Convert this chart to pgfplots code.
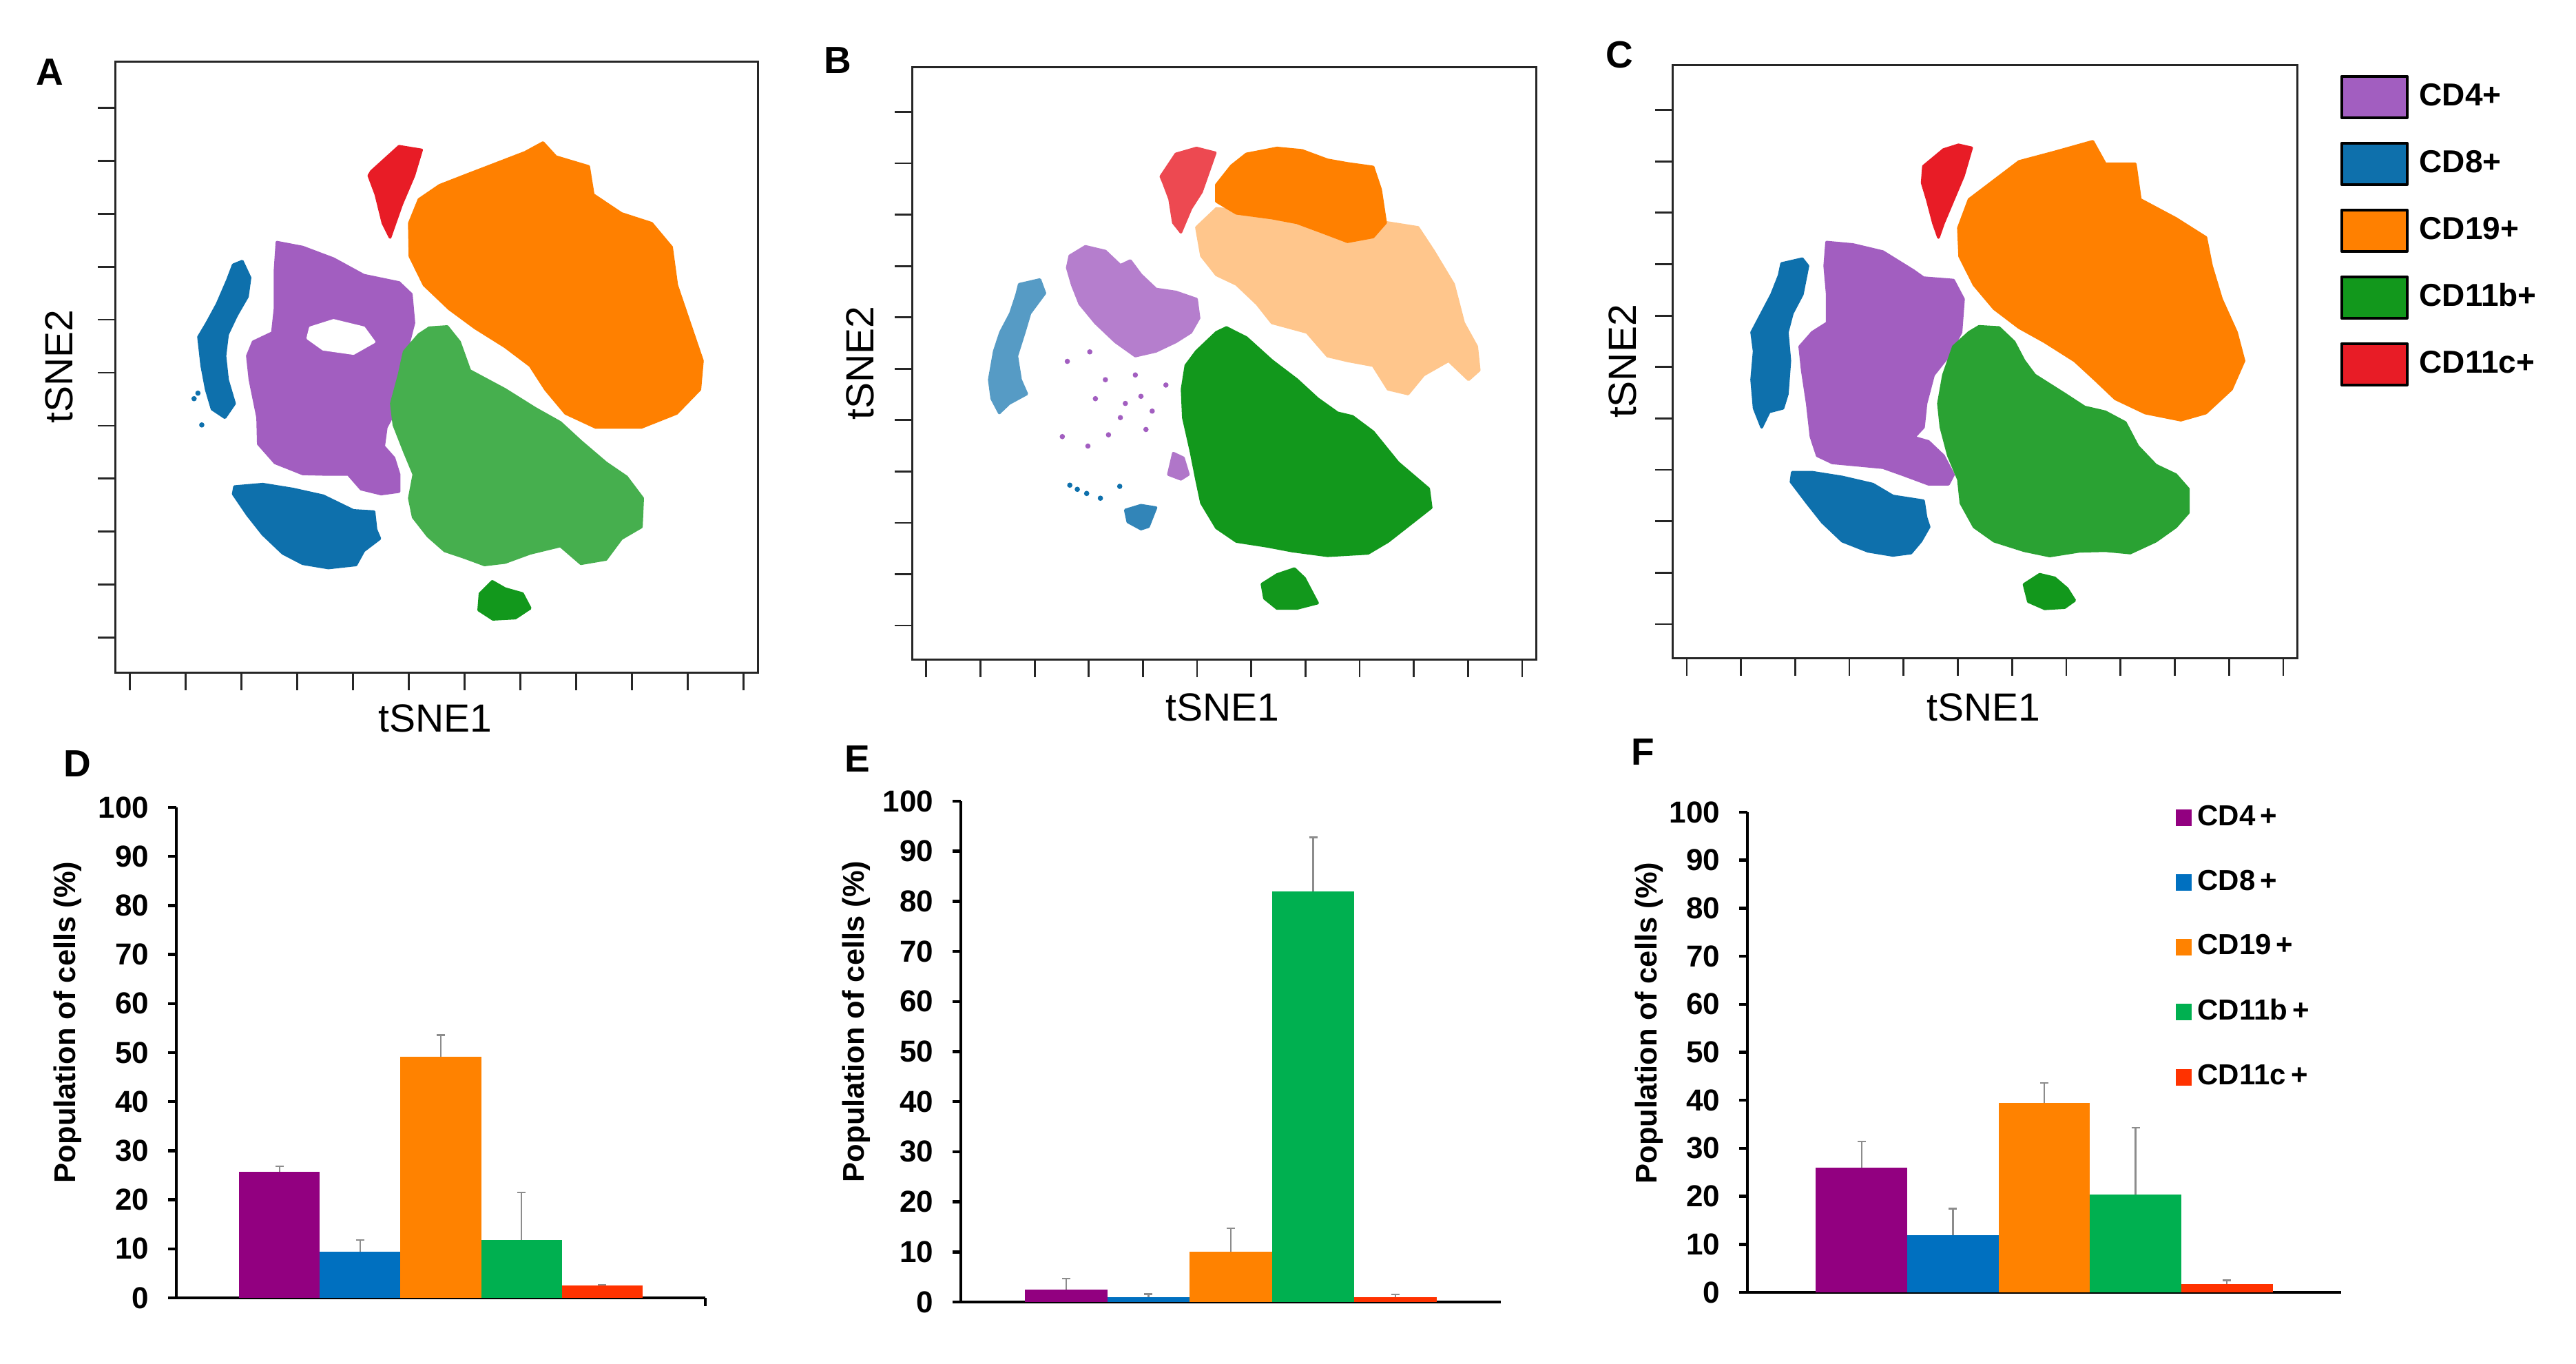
\documentclass[border=0pt]{standalone}
\usepackage{pgfplots}
\pgfplotsset{compat=1.18}
\usepackage{fontspec}
\setmainfont{Liberation Sans}
\definecolor{tpurple}{RGB}{162,94,192}
\definecolor{tblue}{RGB}{14,112,172}
\definecolor{torange}{RGB}{255,128,0}
\definecolor{tgreen}{RGB}{18,152,28}
\definecolor{tred}{RGB}{232,28,38}
\definecolor{bpurple}{RGB}{146,0,128}
\definecolor{bblue}{RGB}{0,112,192}
\definecolor{borange}{RGB}{255,130,0}
\definecolor{bgreen}{RGB}{0,176,80}
\definecolor{bred}{RGB}{255,50,0}
\pgfplotsset{
  tsne/.style={scale only axis, anchor=south west,
    xmin=0,xmax=100,ymin=0,ymax=100,
    xtick={2.3,10.98,19.66,28.34,37.02,45.7,54.38,63.06,71.74,80.42,89.1,97.78},
    ytick={5.8,14.47,23.14,31.81,40.48,49.15,57.82,66.49,75.16,83.83,92.5},
    xticklabels={}, yticklabels={},
    xtick pos=bottom, ytick pos=left,
    tick align=outside, major tick length=5pt,
    tick style={black!85, line width=0.55pt},
    axis line style={black!85, line width=0.6pt},
    label style={font=\fontsize{11.4}{11.4}\selectfont},
    xlabel={tSNE1}, ylabel={tSNE2},
  },
  cl/.style={fill=#1, draw=#1, line width=0.8pt, line join=round, mark=none},
  dots/.style={only marks, mark=*, mark size=0.55pt, color=#1, mark options={fill=#1, draw=#1}},
  leg/.style={legend image code/.code={\draw[fill=#1, draw=black, line width=0.8pt] (0pt,-6pt) rectangle (19pt,6pt);}},
  bars/.style={scale only axis, anchor=south west, ymin=0, ymax=100, enlargelimits=false,
    axis x line=bottom, axis y line=left,
    axis line style={-, line width=0.9pt, black},
    ytick={0,10,...,100}, xtick=\empty,
    tick align=outside, major tick length=2.4pt,
    tick style={line width=0.9pt, black},
    /pgf/number format/assume math mode=true,
    yticklabel style={font=\bfseries\fontsize{8.8}{8.8}\selectfont, xshift=-2pt},
    ylabel={Population of cells (\%)},
    ylabel style={font=\bfseries\fontsize{8.7}{8.7}\selectfont, anchor=center},
    clip=false,
  },
  bar/.style={ybar, bar width=1, draw=none, fill=#1, mark=none,
    legend image code/.code={\fill[#1] (0pt,-2.4pt) rectangle (4.6pt,2.4pt);},
    error bars/.cd, y dir=plus, y explicit,
    error bar style={black!45, line width=0.5pt},
    error mark options={rotate=90, black!45, line width=0.5pt, mark size=1.2pt}},
}
\begin{document}
\begin{tikzpicture}
\useasboundingbox (0pt,0pt) rectangle (748pt,396pt);

% ---------------- Panel A ----------------
\begin{axis}[tsne, at={(33.4pt,200.6pt)}, width=186.6pt, height=177.4pt,
  xlabel style={at={(axis description cs:0.498,-0.074)}, anchor=center},
  ylabel style={at={(axis description cs:-0.087,0.502)}, anchor=center}]
\addplot[cl=torange] coordinates {(45.8,73.6)(47.3,77.5)(50.5,79.8)(54.4,81.4)(59.1,83.3)(63.8,85.2)(66.6,86.8)(68.6,84.5)(73.7,82.9)(74.4,78.3)(78.8,75.2)(83.5,73.6)(86.6,69.7)(87.4,63.5)(89.4,57.3)(91.4,51.1)(91.0,46.4)(87.4,42.5)(81.9,40.2)(74.8,40.2)(70.1,42.5)(67.0,46.4)(64.6,50.3)(60.7,53.4)(56.0,56.5)(52.0,59.6)(48.1,63.5)(45.9,68.2)} --cycle;
\addplot[cl=tred] coordinates {(39.9,82.1)(44.2,86.2)(47.7,85.6)(46.5,81.4)(44.6,76.7)(42.8,71.3)(41.7,73.6)(40.6,78.3)(39.5,81.4)} --cycle;
\addplot[cl=tpurple] coordinates {(25.2,70.5)(29.2,69.7)(34.0,67.8)(38.7,65.1)(44.2,63.9)(46.1,62.0)(46.5,57.3)(45.0,51.1)(44.2,44.1)(42.2,40.2)(41.8,37.1)(43.4,35.2)(44.2,32.5)(44.2,29.7)(41.4,29.3)(38.3,30.1)(36.3,32.5)(33.2,32.5)(29.2,32.6)(24.9,34.4)(22.3,37.5)(22.2,41.8)(21.0,48.0)(20.6,51.9)(21.5,54.2)(24.5,55.7)(24.9,59.6)(24.9,65.8)} --cycle;
\addplot[cl=white] coordinates {(30.4,56.5)(34.0,57.7)(38.7,56.5)(40.3,54.2)(37.1,52.3)(32.4,53.0)(30.0,54.8)} --cycle;
\addplot[cl=tblue] coordinates {(19.8,67.4)(21.0,64.7)(20.6,61.6)(18.9,58.5)(17.5,55.4)(17.1,51.9)(17.5,48.0)(18.6,44.1)(17.1,41.8)(15.1,43.2)(14.2,46.4)(13.5,50.3)(13.0,55.0)(14.3,57.3)(15.9,60.4)(17.5,64.3)(18.4,66.8)} --cycle;
\addplot[dots=tblue] coordinates {(12.3,44.9)(13.5,40.6)(12.9,45.8)};
\addplot[cl=tblue] coordinates {(18.6,30.5)(23.0,30.9)(27.7,30.1)(32.4,29.0)(37.1,26.6)(40.3,26.4)(40.6,23.5)(41.2,22.0)(38.7,20.0)(37.5,17.7)(33.2,17.2)(29.2,17.9)(26.1,19.6)(23.0,22.7)(20.6,25.9)(18.4,29.3)} --cycle;
\addplot[cl=tgreen!78!white] coordinates {(48.9,56.5)(51.7,56.7)(53.6,54.2)(55.2,49.5)(60.7,46.4)(65.4,43.3)(69.3,41.0)(72.5,37.9)(76.4,34.4)(79.6,32.1)(82.1,28.6)(81.9,23.9)(78.8,22.0)(76.4,18.6)(72.5,17.9)(69.3,20.8)(64.6,19.6)(60.7,18.1)(57.5,17.7)(54.4,18.9)(51.3,20.0)(48.7,22.4)(46.4,25.5)(45.8,28.6)(46.5,32.5)(45.0,36.3)(43.4,40.6)(43.0,44.1)(44.2,48.8)(45.0,52.6)(47.3,55.4)} --cycle;
\addplot[cl=tgreen] coordinates {(56.8,13.0)(58.7,15.0)(60.7,13.8)(63.4,13.0)(64.6,10.6)(62.3,9.0)(58.8,8.8)(56.6,10.3)} --cycle;
\end{axis}

% ---------------- Panel B ----------------
\begin{axis}[tsne, at={(264.8pt,204.4pt)}, width=181.2pt, height=172pt,
  xlabel style={at={(axis description cs:0.498,-0.080)}, anchor=center},
  ylabel style={at={(axis description cs:-0.083,0.501)}, anchor=center}]
\addplot[cl=torange!45!white] coordinates {(45.6,73.0)(48.8,76.2)(76.3,73.8)(81.1,73.0)(83.6,69.0)(86.8,63.4)(88.4,56.9)(90.5,52.9)(90.9,48.9)(89.2,47.3)(86.0,50.5)(82.0,48.1)(79.5,44.9)(76.3,45.7)(73.9,49.7)(69.8,50.5)(66.6,51.3)(63.3,55.3)(57.7,56.9)(55.3,60.1)(52.0,63.4)(48.8,65.0)(46.4,68.2)} --cycle;
\addplot[cl=torange] coordinates {(48.8,80.2)(51.2,83.4)(53.6,85.4)(58.5,86.4)(62.5,86.0)(66.6,84.4)(69.8,83.8)(73.9,83.2)(75.1,79.4)(75.9,73.8)(73.9,71.4)(69.8,70.6)(65.8,72.2)(61.7,73.8)(57.7,74.6)(52.0,75.4)(48.8,77.4)} --cycle;
\addplot[cl=tred!80!white] coordinates {(39.9,81.6)(42.3,85.4)(45.6,86.4)(48.6,85.6)(47.6,82.6)(46.4,79.0)(44.7,76.2)(43.1,72.2)(41.9,73.8)(41.3,77.8)(40.3,80.6)} --cycle;
\addplot[cl=tpurple!80!white] coordinates {(25.3,68.2)(27.8,69.8)(31.0,69.0)(33.4,66.6)(35.0,67.4)(36.7,65.0)(39.1,62.6)(42.3,62.1)(45.6,60.9)(46.0,57.7)(44.7,55.3)(42.3,53.7)(39.1,52.1)(35.8,51.3)(32.6,53.7)(29.4,56.9)(26.9,60.1)(25.7,63.3)(24.9,66.2)} --cycle;
\addplot[dots=tpurple] coordinates {(24.9,50.4)(29.4,44.1)(31.0,47.3)(34.2,43.3)(37.5,38.9)(24.1,37.7)(28.2,36.1)(40.7,46.4)(36.7,44.5)(35.8,48.1)(33.4,40.9)(28.5,52.0)(31.5,38.0)(38.5,42.0)};
\addplot[cl=tpurple!85!white] coordinates {(41.9,34.9)(43.5,34.1)(44.3,31.3)(43.1,30.5)(41.1,31.3)} --cycle;
\addplot[cl=tblue!70!white] coordinates {(17.2,63.4)(20.5,64.2)(21.3,61.9)(18.9,58.5)(18.0,55.3)(16.8,51.3)(17.4,47.3)(18.4,44.9)(15.6,43.3)(14.0,41.7)(12.8,44.1)(12.4,47.3)(13.2,52.1)(14.2,55.3)(15.8,58.5)(16.8,61.7)} --cycle;
\addplot[cl=tblue!85!white] coordinates {(34.2,25.3)(36.7,26.1)(39.1,25.7)(37.9,22.5)(36.7,22.1)(34.6,23.3)} --cycle;
\addplot[dots=tblue] coordinates {(25.3,29.5)(28.0,28.1)(30.2,27.3)(33.3,29.3)(26.5,28.8)};
\addplot[cl=tgreen] coordinates {(45.6,52.1)(48.8,55.3)(50.4,56.1)(53.6,54.4)(57.7,50.5)(61.7,47.3)(65.0,44.1)(68.2,41.7)(70.6,41.1)(73.9,38.5)(77.9,33.3)(82.8,28.9)(83.2,25.7)(80.3,23.3)(76.3,20.0)(73.1,18.0)(66.6,17.6)(60.9,18.4)(56.9,19.2)(52.0,20.0)(48.8,22.3)(46.4,26.5)(45.6,30.5)(44.7,35.3)(43.5,40.9)(43.3,45.7)(43.9,49.7)} --cycle;
\addplot[cl=tgreen] coordinates {(56.1,12.8)(58.5,14.4)(61.3,15.4)(62.9,13.8)(64.2,11.2)(65.0,9.6)(61.7,8.7)(58.5,8.7)(56.5,10.4)} --cycle;
\end{axis}

% ---------------- Panel C ----------------
\begin{axis}[tsne, at={(485.6pt,204.8pt)}, width=181.4pt, height=172.2pt,
  xlabel style={at={(axis description cs:0.498,-0.082)}, anchor=center},
  ylabel style={at={(axis description cs:-0.079,0.501)}, anchor=center},
  legend style={at={(axis description cs:1.068,0.985)}, anchor=north west, draw=none, fill=none,
    font=\bfseries\fontsize{9.2}{9.2}\selectfont, row sep=6.6pt, inner sep=0pt,
    nodes={inner sep=1pt}, /tikz/every odd column/.append style={column sep=2.2pt}},
  legend cell align=left]
\addplot[cl=tpurple, leg=tpurple] coordinates {(24.7,70.2)(28.9,69.8)(33.7,68.6)(38.6,65.4)(40.2,64.2)(45.0,63.8)(46.6,60.6)(46.2,55.0)(44.2,51.0)(41.8,47.8)(40.6,43.0)(40.2,39.0)(38.7,37.3)(41.0,36.6)(43.4,34.2)(45.0,31.0)(44.2,29.4)(41.0,29.4)(36.9,31.0)(33.7,32.2)(29.7,32.6)(25.6,33.0)(23.2,34.2)(22.2,37.4)(21.6,43.0)(20.8,48.6)(20.4,52.6)(22.4,55.0)(24.8,56.6)(24.8,61.4)(24.4,66.2)} --cycle;
\addlegendentry{CD4+}
\addplot[cl=tblue, leg=tblue] coordinates {(17.5,66.6)(20.8,67.4)(21.7,66.2)(20.8,61.4)(19.2,58.2)(18.4,55.0)(18.8,50.2)(18.4,44.6)(17.7,42.2)(15.5,41.6)(14.3,39.0)(13.1,42.2)(12.7,47.0)(13.1,51.8)(12.7,55.0)(14.3,58.2)(15.9,61.4)(17.1,64.6)} --cycle;
\addlegendentry{CD8+}
\addplot[cl=tblue, forget plot] coordinates {(19.2,31.4)(22.4,31.4)(27.2,30.6)(32.1,29.4)(35.3,27.4)(40.2,26.6)(40.6,23.8)(41.1,22.2)(39.8,19.8)(38.2,17.8)(35.3,17.4)(31.3,18.1)(27.2,19.8)(24.0,23.0)(21.6,26.2)(19.0,29.8)} --cycle;
\addplot[cl=torange, leg=torange] coordinates {(45.8,72.6)(47.5,77.4)(51.5,80.6)(55.5,83.8)(61.2,85.4)(67.3,87.2)(69.3,83.4)(74.1,83.4)(74.9,77.4)(80.6,74.2)(85.4,71.0)(86.3,66.2)(87.9,60.6)(90.3,55.0)(91.5,50.2)(89.5,45.4)(85.4,41.4)(81.4,40.2)(75.7,41.4)(70.9,43.8)(67.7,47.0)(64.4,50.2)(59.6,53.4)(55.5,55.8)(51.5,59.0)(48.3,63.0)(46.0,67.8)} --cycle;
\addlegendentry{CD19+}
\addplot[cl=tgreen!90!white, leg=tgreen] coordinates {(49.1,56.0)(52.3,55.8)(54.7,53.4)(56.3,50.2)(58.0,47.8)(62.8,44.6)(66.0,42.4)(69.3,41.6)(72.5,39.8)(74.5,35.8)(77.4,32.6)(80.6,31.0)(82.6,28.6)(82.6,24.6)(80.6,22.2)(77.4,19.8)(73.3,17.8)(69.3,18.2)(65.2,18.1)(60.4,17.3)(56.3,18.2)(51.5,19.8)(48.3,22.2)(46.2,26.2)(45.8,30.2)(44.2,34.2)(43.0,39.0)(42.6,43.0)(43.4,47.8)(45.0,52.6)(47.5,55.0)} --cycle;
\addlegendentry{CD11b+}
\addplot[cl=tgreen, forget plot] coordinates {(56.3,12.5)(58.8,14.2)(61.2,13.6)(63.2,11.8)(64.4,9.8)(62.8,8.6)(59.6,8.4)(57.0,9.6)} --cycle;
\addplot[cl=tred, leg=tred] coordinates {(40.2,83.0)(43.4,85.8)(45.8,86.6)(47.9,86.1)(46.6,81.4)(45.0,77.4)(43.4,73.4)(42.6,71.0)(41.8,73.4)(40.8,77.4)(40.0,80.2)} --cycle;
\addlegendentry{CD11c+}
\end{axis}

% ---------------- Panel D ----------------
\begin{axis}[bars, at={(51.2pt,19.2pt)}, width=153.6pt, height=142.4pt,
  xmin=-0.28, xmax=6.28, xtick={6.28}, xticklabels={},
  ylabel style={at={(axis description cs:-0.206,0.562)}}]
\addplot[bar=bpurple] coordinates {(1,25.7) +- (0,1.1)};
\addplot[bar=bblue] coordinates {(2,9.4) +- (0,2.4)};
\addplot[bar=borange] coordinates {(3,49.2) +- (0,4.4)};
\addplot[bar=bgreen] coordinates {(4,11.8) +- (0,9.7)};
\addplot[bar=bred] coordinates {(5,2.5) +- (0,0.2)};
\end{axis}

% ---------------- Panel E ----------------
\begin{axis}[bars, at={(279pt,18pt)}, width=156.8pt, height=145.4pt,
  xmin=-0.28, xmax=6.28,
  ylabel style={at={(axis description cs:-0.194,0.560)}}]
\addplot[bar=bpurple] coordinates {(1,2.5) +- (0,2.2)};
\addplot[bar=bblue] coordinates {(2,1.0) +- (0,0.6)};
\addplot[bar=borange] coordinates {(3,10.0) +- (0,4.7)};
\addplot[bar=bgreen] coordinates {(4,82.0) +- (0,10.8)};
\addplot[bar=bred] coordinates {(5,1.0) +- (0,0.5)};
\end{axis}

% ---------------- Panel F ----------------
\begin{axis}[bars, at={(507.4pt,20.8pt)}, width=172.4pt, height=139.4pt,
  xmin=-0.25, xmax=6.25,
  ylabel style={at={(axis description cs:-0.166,0.561)}},
  legend style={at={(axis description cs:0.72,1.023)}, anchor=north west, draw=none, fill=none,
    font=\bfseries\fontsize{8.4}{8.4}\selectfont, row sep=9.4pt, inner sep=0pt,
    nodes={inner sep=1pt}, /tikz/every odd column/.append style={column sep=0.8pt}},
  legend cell align=left]
\addplot[bar=bpurple] coordinates {(1,26.0) +- (0,5.4)};
\addlegendentry{CD4\,+}
\addplot[bar=bblue] coordinates {(2,11.9) +- (0,5.5)};
\addlegendentry{CD8\,+}
\addplot[bar=borange] coordinates {(3,39.5) +- (0,4.1)};
\addlegendentry{CD19\,+}
\addplot[bar=bgreen] coordinates {(4,20.4) +- (0,13.9)};
\addlegendentry{CD11b\,+}
\addplot[bar=bred] coordinates {(5,1.7) +- (0,0.8)};
\addlegendentry{CD11c\,+}
\end{axis}

% panel letters
\begin{scope}[every node/.style={font=\bfseries\fontsize{11}{11}\selectfont, anchor=center, inner sep=0pt}]
\node at (14.5pt,375pt) {A};
\node at (243.2pt,378.4pt) {B};
\node at (470.2pt,380pt) {C};
\node at (22.4pt,174.2pt) {D};
\node at (249pt,175.6pt) {E};
\node at (477pt,177.6pt) {F};
\end{scope}
\end{tikzpicture}
\end{document}
